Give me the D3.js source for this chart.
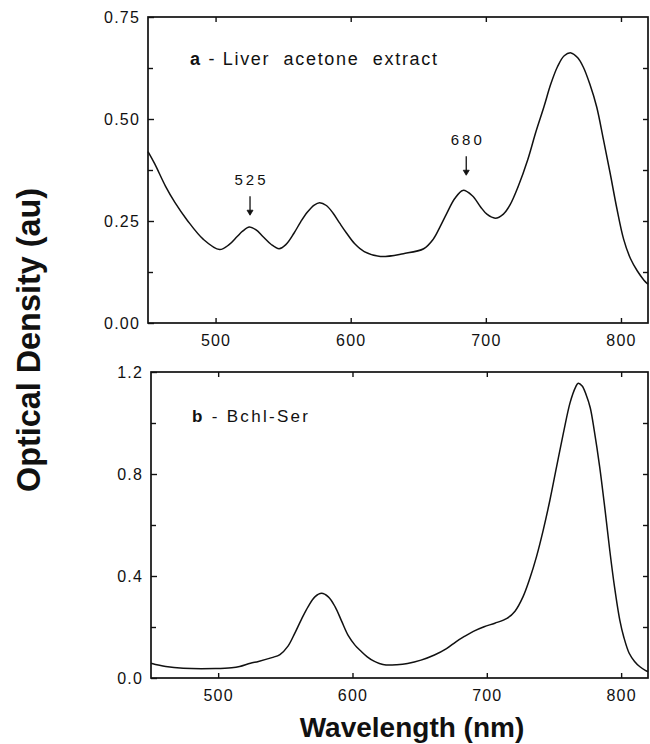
<!DOCTYPE html>
<html><head><meta charset="utf-8">
<script src="https://cdn.jsdelivr.net/npm/d3@7"></script>
<style>
html,body{margin:0;padding:0;background:#fff;}
svg{display:block;font-family:"Liberation Sans",Arial,Helvetica,sans-serif;}
</style></head>
<body>
<svg id="chart" width="650" height="744"></svg>
<script>
// ---- data ----
const wavelengthA = [450,455,463,470,479,491,503,510,516,520,525,530,535,541,547,552,558,563,568,573,577,582,587,592,597,603,610,622,639,654,661,666,671,677,683,690,696,701,707,713,718,724,731,737,743,748,753,758,763,768,772,777,782,787,792,797,802,807,812,817,820];
const odA = [0.42,0.39,0.335,0.295,0.252,0.205,0.180,0.192,0.212,0.225,0.235,0.228,0.212,0.193,0.182,0.192,0.220,0.248,0.272,0.289,0.295,0.288,0.269,0.244,0.220,0.194,0.175,0.163,0.170,0.182,0.205,0.235,0.268,0.305,0.325,0.312,0.285,0.266,0.257,0.267,0.290,0.335,0.40,0.468,0.53,0.585,0.628,0.655,0.662,0.650,0.628,0.585,0.53,0.45,0.367,0.28,0.205,0.158,0.128,0.105,0.095];

const wavelengthB = [450,461,474,498,510,516,524,530,540,546,552,557,562,567,572,577,582,587,592,597,602,606,611,616,620,625,633,641,651,661,670,677,683,690,698,706,715,721,727,732,737,742,747,752,757,762,766,768,771,774,777,780,784,788,791.5,795,799,802,806,810,814,818,820];
const odB = [0.058,0.045,0.038,0.037,0.040,0.045,0.058,0.065,0.080,0.092,0.125,0.175,0.230,0.28,0.318,0.332,0.318,0.28,0.222,0.165,0.128,0.107,0.083,0.066,0.057,0.051,0.052,0.057,0.070,0.090,0.115,0.142,0.162,0.183,0.201,0.215,0.234,0.262,0.319,0.39,0.476,0.58,0.698,0.83,0.96,1.08,1.14,1.156,1.145,1.11,1.06,0.97,0.829,0.66,0.502,0.36,0.227,0.16,0.097,0.065,0.044,0.030,0.025];

const xTicks = [500,600,700,800];
const yTicksA = [0,0.25,0.5,0.75];
const yTickLabelsA = ["0.00","0.25","0.50","0.75"];
const yMinorA = [0.125,0.375,0.625];
const yRightA = [0.125,0.25,0.375,0.5,0.625];
const yTicksB = [0,0.4,0.8,1.2];
const yTickLabelsB = ["0.0","0.4","0.8","1.2"];
const yMinorB = [0.2,0.6,1.0];
const yRightB = [0.2,0.4,0.6,0.8,1.0];
const annotLabels = ["525","680"];
const annotX = [525.5,685.5];
const annotY = [0.247,0.345];
const panelLabels = [["a","- Liver  acetone  extract"],["b","- Bchl-Ser"]];

// ---- drawing ----
const svg = d3.select("#chart");
const panels = [
  {x:wavelengthA, y:odA, left:148, right:648, top:17, bottom:323, ymax:0.75,
   ticks:yTicksA, labels:yTickLabelsA, minor:yMinorA, rightT:yRightA, label:panelLabels[0], lx:190, ly:65, tl:247, fs:18},
  {x:wavelengthB, y:odB, left:151, right:648, top:372, bottom:678, ymax:1.2,
   ticks:yTicksB, labels:yTickLabelsB, minor:yMinorB, rightT:yRightB, label:panelLabels[1], lx:192, ly:422, tl:116, fs:17}
];

panels.forEach((p,i)=>{
  const x = d3.scaleLinear().domain([450,820]).range([p.left,p.right]);
  const y = d3.scaleLinear().domain([0,p.ymax]).range([p.bottom,p.top]);
  const g = svg.append("g");

  const styleAxis = sel => {
    sel.select(".domain").remove();
    sel.selectAll(".tick line").attr("stroke","#111").attr("stroke-width",1.4);
    sel.selectAll(".tick text").attr("fill","#111").style("font-size","16px").style("letter-spacing","1.2px");
  };

  g.append("g").attr("transform",`translate(0,${p.bottom})`)
    .call(d3.axisBottom(x).tickValues(xTicks).tickSizeInner(-5).tickSizeOuter(0).tickPadding(12).tickFormat(d3.format("d")))
    .call(styleAxis);
  g.append("g").attr("transform",`translate(0,${p.top})`)
    .call(d3.axisTop(x).tickValues(xTicks).tickSizeInner(-5).tickSizeOuter(0).tickFormat(""))
    .call(styleAxis);
  g.append("g").attr("transform",`translate(${p.left},0)`)
    .call(d3.axisLeft(y).tickValues(p.ticks).tickSizeInner(-6).tickSizeOuter(0).tickPadding(8)
      .tickFormat((d,k)=>p.labels[k]))
    .call(styleAxis);
  g.append("g").attr("transform",`translate(${p.left},0)`)
    .call(d3.axisLeft(y).tickValues(p.minor).tickSizeInner(-5).tickSizeOuter(0).tickFormat(""))
    .call(styleAxis);
  g.append("g").attr("transform",`translate(${p.right},0)`)
    .call(d3.axisRight(y).tickValues(p.rightT).tickSizeInner(-5).tickSizeOuter(0).tickFormat(""))
    .call(styleAxis);

  g.append("rect").attr("x",p.left).attr("y",p.top)
    .attr("width",p.right-p.left).attr("height",p.bottom-p.top)
    .attr("fill","none").attr("stroke","#111").attr("stroke-width",1.7);

  const line = d3.line().x(d=>x(d[0])).y(d=>y(d[1])).curve(d3.curveCatmullRom.alpha(0.5));
  g.append("path").datum(p.x.map((v,k)=>[v,p.y[k]]))
    .attr("d",line).attr("fill","none").attr("stroke","#111").attr("stroke-width",1.5)
    .attr("stroke-linejoin","round");

  const t = g.append("text").attr("x",p.lx).attr("y",p.ly)
    .attr("textLength",p.tl).attr("lengthAdjust","spacing")
    .style("font-size", p.fs + "px").style("white-space","pre").attr("fill","#111");
  t.append("tspan").attr("font-weight","bold").text(p.label[0]);
  t.append("tspan").text(" " + p.label[1]);

  if(i===0){
    annotLabels.forEach((lab,k)=>{
      const ax = x(annotX[k]);
      const tipY = y(annotY[k]);
      g.append("text").attr("x",ax).attr("y",tipY-37).attr("text-anchor","middle")
        .style("font-size","15px").style("letter-spacing","3px").attr("fill","#111")
        .attr("dx","1.5px").text(lab);
      g.append("line").attr("x1",ax).attr("x2",ax).attr("y1",tipY-26).attr("y2",tipY-8)
        .attr("stroke","#111").attr("stroke-width",1.3);
      g.append("path").attr("d",`M${ax-3},${tipY-12}L${ax},${tipY-7}L${ax+3},${tipY-12}Z`)
        .attr("fill","#111").attr("stroke","#111").attr("stroke-width",0.8);
    });
  }
});

svg.append("text").attr("x",412).attr("y",737).attr("text-anchor","middle")
  .style("font-size","28px").style("font-weight","bold").attr("fill","#111")
  .text("Wavelength (nm)");
svg.append("text").attr("transform","translate(40,340) rotate(-90)").attr("text-anchor","middle")
  .attr("textLength",304).attr("lengthAdjust","spacingAndGlyphs")
  .style("font-size","33px").style("font-weight","bold").attr("fill","#111")
  .text("Optical Density (au)");
</script>
</body></html>
